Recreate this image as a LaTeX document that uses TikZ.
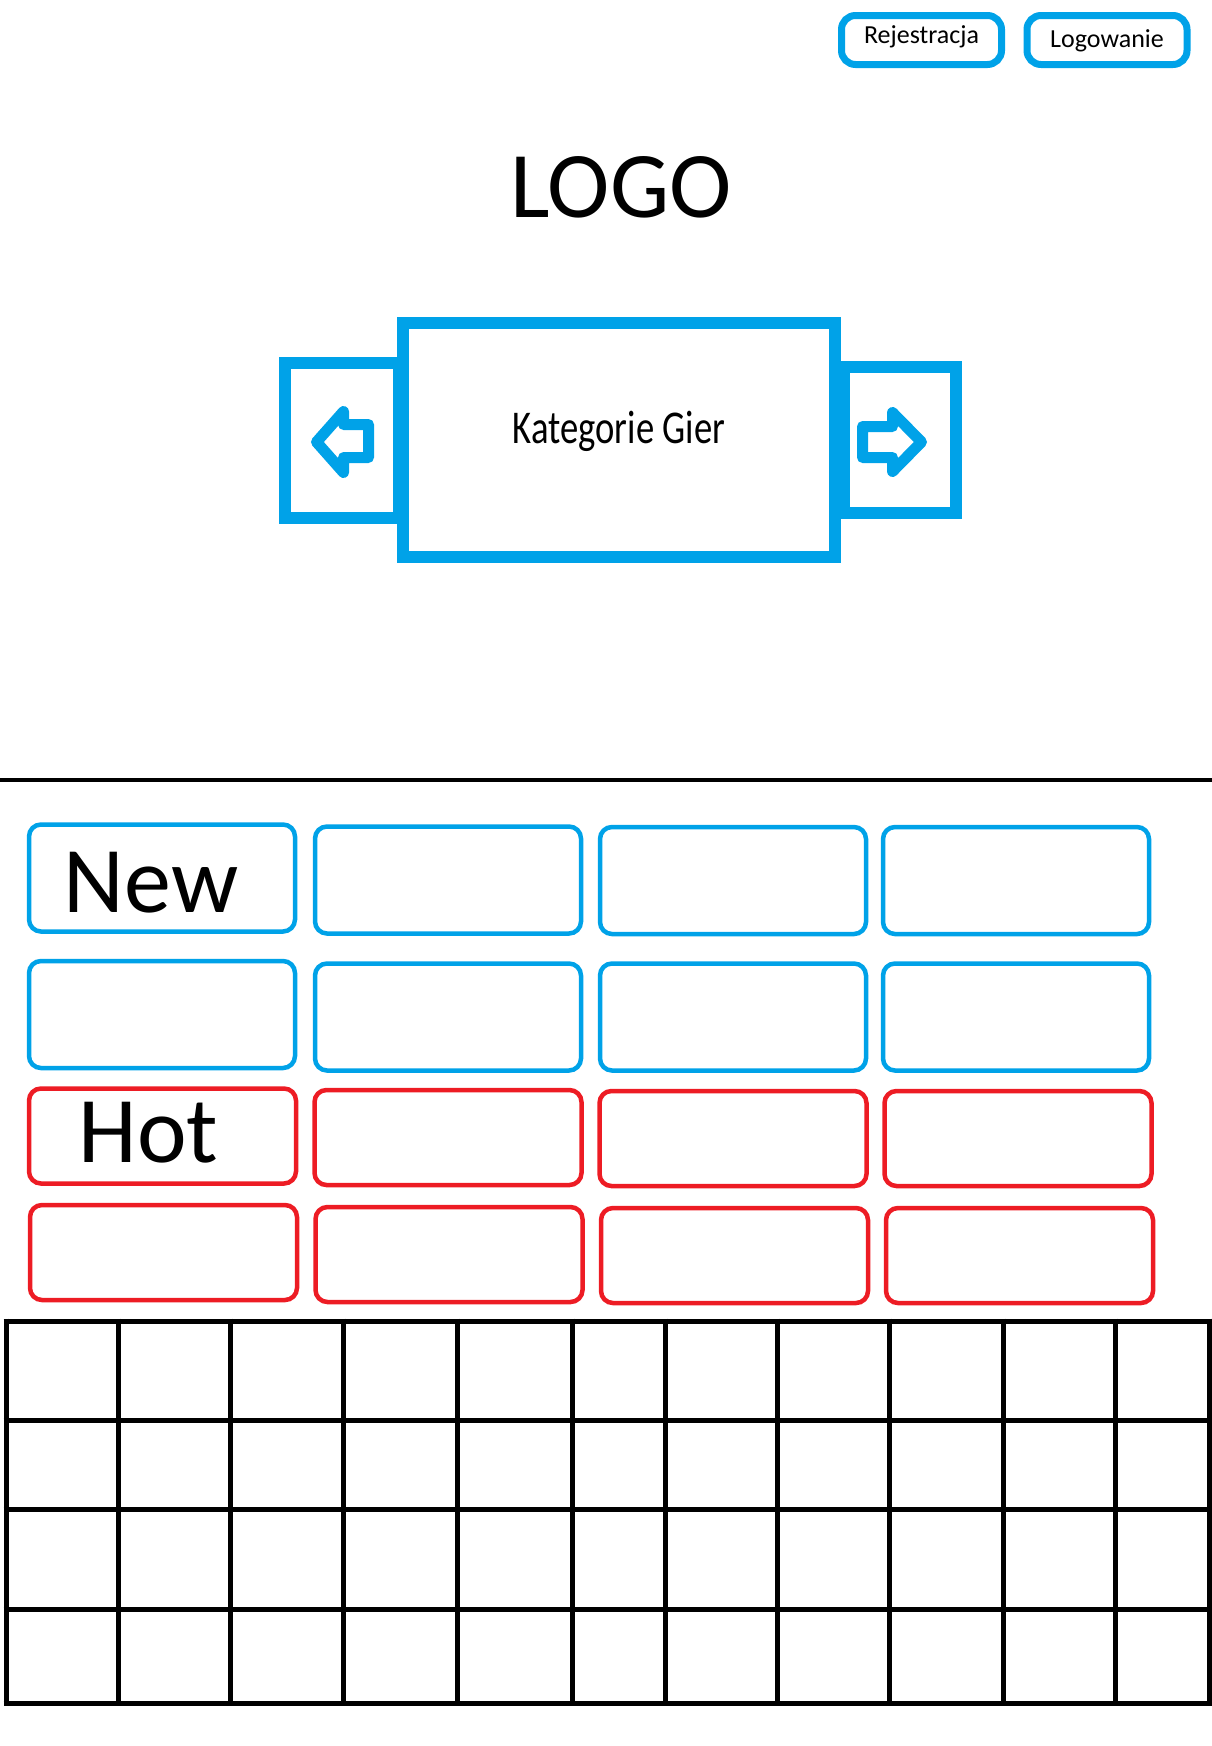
\documentclass[tikz,border=0pt]{standalone}
\usepackage{fontspec}
\setmainfont{Carlito}
\usepackage{tikz}
\usetikzlibrary{positioning}
\definecolor{paintblue}{RGB}{0,162,232}
\definecolor{paintred}{RGB}{237,28,36}
\tikzset{
    button/.style={shape=rectangle,draw=paintblue,line width=7pt,rounded corners=14pt,minimum width=160pt,minimum height=49pt,inner sep=0pt,font=\fontsize{26pt}{26pt}\selectfont},
    slidebox/.style={shape=rectangle,draw=paintblue,fill=white,line width=12pt,inner sep=0pt},
    newtile/.style={shape=rectangle,draw=paintblue,line width=4.5pt,rounded corners=12pt,minimum width=266pt,minimum height=107pt,inner sep=0pt},
    hottile/.style={newtile,draw=paintred,minimum width=267pt,minimum height=95pt},
    bigtext/.style={font=\fontsize{94pt}{94pt}\selectfont}
}

\begin{document}
\begin{tikzpicture}[x=1pt,y=-1pt]
    \useasboundingbox (0,0) rectangle (1212,1746);

    \node[button,text height=12pt,text depth=6pt] (Rej) at (921.5,40) {Rejestracja};
    \node[button,text height=14pt,text depth=0pt] (Log) at (1107,40) {Logowanie};
    \node[bigtext,anchor=base] (Logo) at (621,217) {LOGO};

    \node[slidebox,minimum width=114pt,minimum height=155pt] (Prev) at (342,440.5) {};
    \node[slidebox,minimum width=112pt,minimum height=146pt] (Next) at (900,440) {};
    \node[slidebox,minimum width=432pt,minimum height=234pt,text height=17pt,text depth=10pt,font=\fontsize{47pt}{47pt}\selectfont] (Kat) at (619,439.5) {\scalebox{0.78}[1]{Kategorie Gier}};

    \draw[paintblue,line width=11pt,line join=round] (316.5,442) -- (343.5,411.5) -- (343.5,424.5) -- (368.5,424.5) -- (368.5,457.5) -- (343.5,457.5) -- (343.5,472.5) -- cycle;
    \draw[paintblue,line width=11pt,line join=round] (862.5,426.5) -- (892.5,426.5) -- (892.5,412.5) -- (921.5,442) -- (892.5,471.5) -- (892.5,457.5) -- (862.5,457.5) -- cycle;

    \draw[line width=4.5pt] (0,780) -- (1212,780);

    \node[newtile,bigtext,text height=68pt,text depth=0pt] (N_1) at (162,878) {\mbox{New\hspace{22pt}}};
    \node[newtile] (N_2) at (448,880) {};
    \node[newtile] (N_3) at (733,880.5) {};
    \node[newtile] (N_4) at (1016,880.5) {};
    \node[newtile] (N_5) at (162,1014.5) {};
    \node[newtile] (N_6) at (448,1017) {};
    \node[newtile] (N_7) at (733,1017) {};
    \node[newtile] (N_8) at (1016,1017) {};

    \node[hottile,bigtext,text height=53pt,text depth=0pt] (H_1) at (162.5,1136) {\mbox{Hot\hspace{28pt}}};
    \node[hottile] (H_2) at (448,1137.5) {};
    \node[hottile] (H_3) at (733,1138.5) {};
    \node[hottile] (H_4) at (1018,1138.5) {};
    \node[hottile] (H_5) at (163.5,1252.5) {};
    \node[hottile] (H_6) at (449,1254.5) {};
    \node[hottile] (H_7) at (734.5,1255.5) {};
    \node[hottile] (H_8) at (1019.5,1255.5) {};

    \foreach \gx in {6,118,230,343,457,572,665,777,889,1003,1115,1209}
        \draw[line width=5pt] (\gx,1318.5) -- (\gx,1705.5);
    \foreach \gy in {1321,1420,1509,1609,1703}
        \draw[line width=5pt] (3.5,\gy) -- (1211.5,\gy);
\end{tikzpicture}
\end{document}
